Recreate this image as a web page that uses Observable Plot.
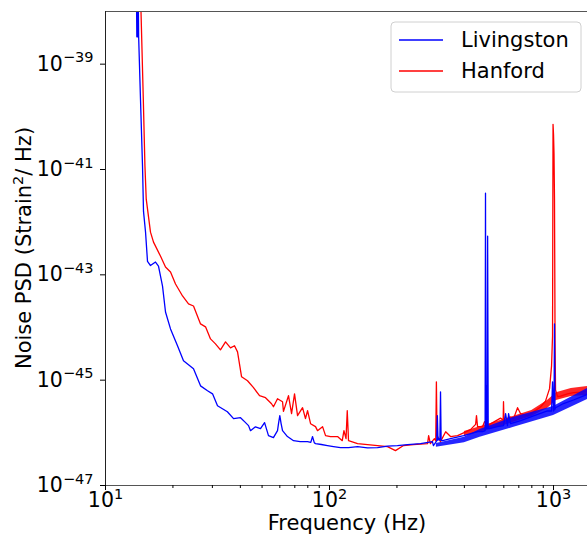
<!DOCTYPE html>
<html><head><meta charset="utf-8">
<script src="https://cdn.jsdelivr.net/npm/d3@7"></script>
<script src="https://cdn.jsdelivr.net/npm/@observablehq/plot@0.6"></script>
<style>
body{margin:0;background:#fff}
#chart svg{font-family:"DejaVu Sans",sans-serif;display:block}
</style>
</head><body><div id="chart"></div>
<script>
// ---- Data ----
const seriesNames = ["Livingston", "Hanford"];
const seriesColors = ["#0000ff", "#ff0000"];

const livingstonFreq = [13.75, 13.8, 13.87, 13.93, 14.0, 14.06, 14.33, 14.63, 14.78, 15.09, 15.4, 15.88, 16.72, 17.24, 17.97, 18.53, 19.51, 20.96, 22.29, 23.47, 24.71, 26.56, 28.54, 30.05, 31.62, 35.0, 37.3, 40.07, 41.75, 43.5, 44.4, 46.7, 49.2, 51.3, 53.4, 56.2, 58.6, 59.2, 60.0, 60.8, 61.7, 64.9, 69.1, 74.0, 79.8, 82.5, 84.0, 85.5, 86.6, 92.0, 97.9, 104.2, 112, 121.6, 133.4, 147.8, 163.8, 181.5, 201, 223, 255, 288, 291, 301, 303, 305, 307, 311, 313, 315, 320, 347, 397, 458, 482, 495, 497, 499, 502, 505, 508, 511, 518, 562, 598, 611, 623, 630, 643, 713, 814, 940, 980, 990, 1000, 1005, 1010, 1015, 1021, 1108, 1228, 1418];
const livingstonPSD = [2e-38, 3.3e-39, 2e-38, 3.3e-39, 2e-38, 3.3e-39, 2.14e-40, 1.15e-41, 1.6e-42, 6.5e-43, 1.8e-43, 1.5e-43, 1.75e-43, 1.47e-43, 6.1e-44, 1.97e-44, 9.4e-45, 4.5e-45, 2.33e-45, 1.96e-45, 1.64e-45, 7.8e-46, 6.3e-46, 5.5e-46, 3.27e-46, 2.52e-46, 1.86e-46, 1.94e-46, 1.63e-46, 1.37e-46, 1.1e-46, 1.3e-46, 1.2e-46, 1.56e-46, 8.85e-47, 8.1e-47, 1.1e-46, 1.5e-46, 2.12e-46, 1.5e-46, 1.1e-46, 8.5e-47, 7.1e-47, 6.8e-47, 6.8e-47, 6.6e-47, 8.5e-47, 6.5e-47, 6.24e-47, 6.0e-47, 5.73e-47, 5.48e-47, 5.24e-47, 5.24e-47, 5.48e-47, 5.2e-47, 5.24e-47, 5.6e-47, 5.73e-47, 5.98e-47, 6.24e-47, 6.8e-47, 5.73e-47, 7.0e-47, 2.12e-46, 7.2e-47, 7.76e-47, 7.3e-47, 6.0e-46, 7.2e-47, 7.1e-47, 7.76e-47, 8.85e-47, 1.05e-46, 1.05e-46, 1.1e-46, 3.54e-42, 1.2e-46, 7.8e-46, 1.2e-46, 5.43e-43, 1.2e-46, 1.2e-46, 1.31e-46, 1.37e-46, 2.31e-46, 1.37e-46, 2.31e-46, 1.49e-46, 1.7e-46, 2.1e-46, 2.6e-46, 2.6e-46, 9.3e-46, 2.6e-46, 2.7e-46, 1.17e-44, 2.8e-46, 3.0e-46, 3.6e-46, 4.2e-46, 5.4e-46];

const hanfordFreq = [14.2, 14.75, 15.0, 15.2, 15.88, 16.38, 17.59, 18.53, 19.51, 20.54, 22.07, 23.47, 24.71, 26.56, 27.96, 29.43, 30.97, 32.6, 34.34, 36.14, 37.66, 38.85, 40.5, 43.05, 45.79, 48.7, 51.8, 55.1, 56.2, 58.6, 61.7, 62.3, 65.6, 67.7, 69.8, 72.0, 75.8, 78.1, 79.8, 82.3, 86.6, 88.4, 93.1, 96.0, 101, 108.6, 114, 116, 118.5, 120, 121.6, 133.4, 147.8, 163.8, 181.5, 197, 214, 237, 274, 277, 282, 294, 298, 300, 302, 313, 330, 347, 373, 397, 426, 449, 453, 458, 482, 492, 508, 540, 580, 596, 598, 601, 643, 663, 691, 713, 766, 814, 875, 921, 960, 980, 990, 995, 1000, 1005, 1010, 1016, 1021, 1042, 1075, 1155, 1228, 1319, 1418];
const hanfordPSD = [1e-37, 2.14e-40, 1.15e-41, 2.73e-42, 6.47e-43, 4.18e-43, 2.27e-43, 1.41e-43, 1.13e-43, 6.7e-44, 3.97e-44, 2.8e-44, 2.56e-44, 1.17e-44, 1.03e-44, 6.08e-45, 4.89e-45, 3.77e-45, 5.33e-45, 4.11e-45, 4.5e-45, 3.45e-45, 1.16e-45, 9.75e-46, 7.2e-46, 5.07e-46, 4.64e-46, 3.57e-46, 3.13e-46, 4.45e-46, 3.9e-46, 2.55e-46, 5.07e-46, 2.31e-46, 5.5e-46, 2.12e-46, 3.0e-46, 1.86e-46, 2.63e-46, 1.49e-46, 1.31e-46, 1.1e-46, 1.31e-46, 8.85e-47, 8.5e-47, 8.5e-47, 7.1e-47, 1.1e-46, 7.76e-47, 2.63e-46, 7.1e-47, 6.24e-47, 5.98e-47, 5.73e-47, 5.48e-47, 4.6e-47, 5.73e-47, 5.98e-47, 6.24e-47, 8.85e-47, 6.24e-47, 7.76e-47, 7.0e-47, 9.3e-46, 8.85e-47, 6.8e-47, 1.05e-46, 8.5e-47, 8.85e-47, 1.0e-46, 1.15e-46, 1.45e-46, 2.12e-46, 1.31e-46, 1.31e-46, 1.63e-46, 1.37e-46, 1.6e-46, 1.9e-46, 1.75e-46, 3.9e-46, 1.75e-46, 2.0e-46, 1.86e-46, 3.0e-46, 2.31e-46, 2.12e-46, 2.5e-46, 3.1e-46, 4.0e-46, 6.9e-46, 1.87e-45, 6.9e-45, 7.2e-41, 4.6e-41, 2.0e-41, 2.73e-42, 5.0e-45, 6.5e-46, 4.9e-46, 5.0e-46, 5.5e-46, 5.8e-46, 5.9e-46, 6.3e-46];

// spread of the noisy high-frequency trace (lower / upper edge)
const livingstonBandFreq = [300, 400, 470, 660, 1000, 1418];
const livingstonBandLo = [5.3e-47, 6.5e-47, 8.2e-47, 1.26e-46, 2.13e-46, 4.3e-46];
const livingstonBandHi = [6.3e-47, 8.2e-47, 1.16e-46, 1.95e-46, 3.16e-46, 6.95e-46];
const hanfordBandFreq = [400, 600, 800, 940, 1030, 1200, 1418];
const hanfordBandLo = [8.5e-47, 1.38e-46, 2.04e-46, 2.9e-46, 4.1e-46, 4.9e-46, 5.1e-46];
const hanfordBandHi = [1.06e-46, 1.79e-46, 2.65e-46, 4.1e-46, 5.8e-46, 6.95e-46, 7.6e-46];

const xMajorTicks = [10, 100, 1000];
const xMinorTicks = [20, 30, 40, 50, 60, 70, 80, 90, 200, 300, 400, 500, 600, 700, 800, 900];
const yMajorTicks = [1e-47, 1e-45, 1e-43, 1e-41, 1e-39];
const xLabel = "Frequency (Hz)";
const yLabelParts = ["Noise PSD (Strain", "2", "/ Hz)"];

// ---- Build tables ----
const livingston = livingstonFreq.map((f, i) => ({f, psd: livingstonPSD[i]}));
const hanford = hanfordFreq.map((f, i) => ({f, psd: hanfordPSD[i]}));
const livingstonBand = livingstonBandFreq.map((f, i) => ({f, lo: livingstonBandLo[i], hi: livingstonBandHi[i]}));
const hanfordBand = hanfordBandFreq.map((f, i) => ({f, lo: hanfordBandLo[i], hi: hanfordBandHi[i]}));

const expFmt = d => "10^" + Math.round(Math.log10(d));

const svg = Plot.plot({
  width: 587, height: 538,
  marginTop: 11, marginBottom: 53, marginLeft: 105, marginRight: 0,
  style: {fontFamily: "DejaVu Sans", fontSize: "21px", background: "white", color: "black"},
  x: {type: "log", domain: [10, 1418]},
  y: {type: "log", domain: [1e-47, 1e-38]},
  marks: [
    Plot.areaY(hanfordBand, {x: "f", y1: "lo", y2: "hi", fill: seriesColors[1], fillOpacity: 0.85, clip: true}),
    Plot.line(hanford, {x: "f", y: "psd", stroke: seriesColors[1], strokeWidth: 1.3, clip: true}),
    Plot.areaY(livingstonBand, {x: "f", y1: "lo", y2: "hi", fill: seriesColors[0], fillOpacity: 0.85, clip: true}),
    Plot.line(livingston, {x: "f", y: "psd", stroke: seriesColors[0], strokeWidth: 1.3, clip: true}),
    Plot.ruleY([1e-38], {stroke: "#555", strokeWidth: 1.2}),
    Plot.ruleY([1e-47], {stroke: "#555", strokeWidth: 1.2}),
    Plot.ruleX([10], {stroke: "#222", strokeWidth: 1}),
    Plot.axisX({ticks: xMajorTicks, tickSize: 5, tickPadding: 2, tickFormat: expFmt, fontSize: 20.5, label: null}),
    Plot.axisX({ticks: xMinorTicks, tickSize: 3, tickFormat: () => "", label: null}),
    Plot.axisY({ticks: yMajorTicks, tickSize: 5, tickPadding: 7, tickFormat: expFmt, fontSize: 20.5, label: null})
  ]
});

// superscripts for tick labels; drop the empty minor-tick labels
const NS = "http://www.w3.org/2000/svg";
svg.querySelectorAll("text").forEach(t => {
  const s = t.textContent;
  if (s.trim() === "") { t.remove(); return; }
  if (/^10\^/.test(s)) {
    const e = s.slice(3).replace("-", "\u2212");
    while (t.firstChild) t.removeChild(t.firstChild);
    const a = document.createElementNS(NS, "tspan");
    a.textContent = "10";
    const b = document.createElementNS(NS, "tspan");
    b.setAttribute("dy", "-8.5");
    b.setAttribute("font-size", "14.5px");
    b.textContent = e;
    t.appendChild(a); t.appendChild(b);
  }
});

const root = d3.select(svg);
root.append("text").attr("x", 347).attr("y", 530).attr("text-anchor", "middle")
  .attr("font-size", 21).attr("fill", "black").text(xLabel);
const yl = root.append("text").attr("transform", "translate(31,248) rotate(-90)")
  .attr("text-anchor", "middle").attr("font-size", 21).attr("fill", "black");
yl.append("tspan").text(yLabelParts[0]);
yl.append("tspan").attr("dy", -8).attr("font-size", 14.5).text(yLabelParts[1]);
yl.append("tspan").attr("dy", 8).text(yLabelParts[2]);

// legend
const lg = root.append("g").attr("text-anchor", "start");
lg.append("rect").attr("x", 391).attr("y", 22).attr("width", 190).attr("height", 70).attr("rx", 4)
  .attr("fill", "white").attr("fill-opacity", 0.8).attr("stroke", "#d0d0d0");
seriesNames.forEach((n, i) => {
  const y = 40 + i * 31;
  lg.append("line").attr("x1", 399).attr("x2", 443).attr("y1", y).attr("y2", y)
    .attr("stroke", seriesColors[i]).attr("stroke-width", 1.3);
  lg.append("text").attr("x", 461).attr("y", y + 7).attr("text-anchor", "start")
    .attr("font-size", 21).attr("fill", "black").text(n);
});

document.getElementById("chart").appendChild(svg);
</script>
</body></html>
